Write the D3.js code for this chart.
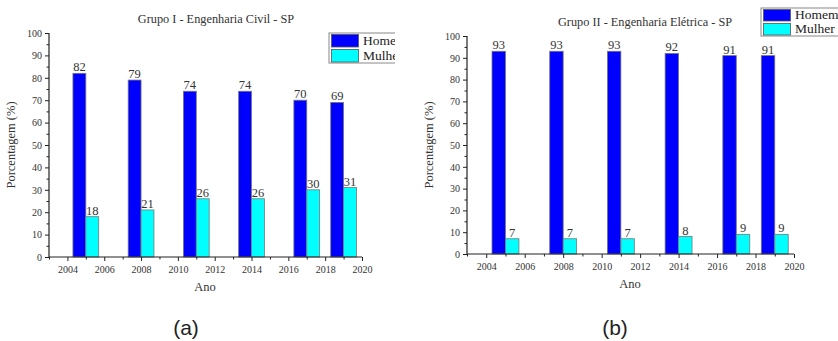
<!DOCTYPE html>
<html>
<head>
<meta charset="utf-8">
<script src="https://cdn.jsdelivr.net/npm/d3@7"></script>
<style>
  html, body { margin: 0; padding: 0; background: #fff; }
  svg { display: block; }
</style>
</head>
<body>
<script>
// ---- data ----
const years = [2005, 2008, 2011, 2014, 2017, 2019];
const civilHomem = [82, 79, 74, 74, 70, 69];
const civilMulher = [18, 21, 26, 26, 30, 31];
const eletricaHomem = [93, 93, 93, 92, 91, 91];
const eletricaMulher = [7, 7, 7, 8, 9, 9];
const xTickLabels = [2004, 2006, 2008, 2010, 2012, 2014, 2016, 2018, 2020];
const yTickLabels = [0, 10, 20, 30, 40, 50, 60, 70, 80, 90, 100];
const seriesNames = ["Homem", "Mulher"];
const titles = ["Grupo I - Engenharia Civil - SP", "Grupo II - Engenharia Elétrica - SP"];
const panelLabels = ["(a)", "(b)"];

const W = 838, H = 341;
const colors = ["#0000FF", "#00FFFF"];
const serif = "'Liberation Serif', 'DejaVu Serif', serif";
const textColor = "#333";

const svg = d3.select("body").append("svg").attr("width", W).attr("height", H);

const panels = [
  { homem: civilHomem, mulher: civilMulher, title: titles[0], label: panelLabels[0],
    x0: 49, x1: 362, y0: 257, y1: 33, titleX: 216, titleY: 23,
    yLabX: 15, anoX: 205, anoY: 291, tickY: 272, panelX: 186,
    legend: { x: 329, y: 33, w: 80, h: 30, clip: 395 } },
  { homem: eletricaHomem, mulher: eletricaMulher, title: titles[1], label: panelLabels[1],
    x0: 467, x1: 794, y0: 254, y1: 36, titleX: 645, titleY: 26,
    yLabX: 433, anoX: 630, anoY: 288, tickY: 270, panelX: 615,
    legend: { x: 761, y: 8, w: 90, h: 28, clip: 838 } }
];

panels.forEach((p, pi) => {
  const g = svg.append("g");
  const x = d3.scaleLinear().domain([2003, 2020]).range([p.x0, p.x1]);
  const y = d3.scaleLinear().domain([0, 100]).range([p.y0, p.y1]);
  const bw = 0.7;

  // bars
  const series = [p.homem, p.mulher];
  series.forEach((vals, si) => {
    const bg = g.append("g");
    bg.selectAll("rect").data(years).join("rect")
      .attr("x", (d) => si === 0 ? x(d - bw) : x(d))
      .attr("width", x(d3.min(years) + bw) - x(d3.min(years)))
      .attr("y", (d, i) => y(vals[i]))
      .attr("height", (d, i) => y(0) - y(vals[i]))
      .attr("fill", colors[si])
      .attr("stroke", "#777")
      .attr("stroke-width", 0.8);
    bg.selectAll("text").data(years).join("text")
      .attr("x", (d) => si === 0 ? x(d - bw / 2) : x(d + bw / 2))
      .attr("y", (d, i) => y(vals[i]) - 2)
      .attr("text-anchor", "middle")
      .attr("font-family", serif)
      .attr("font-size", 12.5)
      .attr("fill", textColor)
      .text((d, i) => vals[i]);
  });

  // y axis
  const yAxis = d3.axisLeft(y).tickValues(yTickLabels).tickSize(4).tickPadding(3).tickFormat(d3.format("d"));
  const ya = g.append("g").attr("transform", `translate(${p.x0},0)`).call(yAxis);
  const yMinor = d3.axisLeft(y).tickValues(d3.range(5, 100, 10)).tickSize(2.5).tickFormat("");
  g.append("g").attr("transform", `translate(${p.x0},0)`).call(yMinor).select(".domain").remove();

  // x axis
  const xAxis = d3.axisBottom(x).tickValues(xTickLabels).tickSize(4).tickPadding(5).tickFormat(d3.format("d"));
  const xa = g.append("g").attr("transform", `translate(0,${p.y0})`).call(xAxis);
  const xMinor = d3.axisBottom(x).tickValues(d3.range(2003, 2020, 2)).tickSize(2.5).tickFormat("");
  g.append("g").attr("transform", `translate(0,${p.y0})`).call(xMinor).select(".domain").remove();

  g.selectAll(".domain").attr("stroke", "#222").attr("stroke-width", 1.2);
  g.selectAll(".tick line").attr("stroke", "#222");
  g.selectAll(".tick text").attr("font-family", serif).attr("font-size", 10).attr("fill", textColor);
  ya.selectAll(".domain").attr("d", `M-0,${p.y0}V${p.y1}`);
  xa.selectAll(".domain").attr("d", `M${p.x0},0H${p.x1}`);

  // title
  g.append("text").attr("x", p.titleX).attr("y", p.titleY).attr("text-anchor", "middle")
    .attr("font-family", serif).attr("font-size", 12.3).attr("fill", textColor).text(p.title);

  // axis labels
  g.append("text").attr("transform", `translate(${p.yLabX},${(p.y0 + p.y1) / 2}) rotate(-90)`)
    .attr("text-anchor", "middle").attr("font-family", serif).attr("font-size", 12.5).attr("fill", textColor)
    .text("Porcentagem (%)");
  g.append("text").attr("x", p.anoX).attr("y", p.anoY).attr("text-anchor", "middle")
    .attr("font-family", serif).attr("font-size", 12.5).attr("fill", textColor).text("Ano");

  // panel label
  g.append("text").attr("x", p.panelX).attr("y", 335).attr("text-anchor", "middle")
    .attr("font-family", "'Liberation Sans', Arial, sans-serif").attr("font-size", 21).attr("fill", "#222")
    .text(p.label);

  // legend
  const L = p.legend;
  const clipId = "legclip" + pi;
  svg.append("clipPath").attr("id", clipId).append("rect")
    .attr("x", L.x - 2).attr("y", L.y - 2).attr("width", L.clip - L.x + 2).attr("height", L.h + 4);
  const lg = g.append("g").attr("clip-path", `url(#${clipId})`);
  lg.append("rect").attr("x", L.x).attr("y", L.y).attr("width", L.w).attr("height", L.h)
    .attr("fill", "#fff").attr("stroke", "#888").attr("stroke-width", 1);
  const rowH = L.h / 2;
  seriesNames.forEach((name, i) => {
    lg.append("rect").attr("x", L.x + 2.5).attr("y", L.y + 1.5 + i * rowH)
      .attr("width", 27).attr("height", rowH - 2.5)
      .attr("fill", colors[i]).attr("stroke", "#555").attr("stroke-width", 0.8);
    lg.append("text").attr("x", L.x + 34).attr("y", L.y + rowH * (i + 1) - 3)
      .attr("font-family", serif).attr("font-size", 13.5).attr("fill", "#222").text(name);
  });
});
</script>
</body>
</html>
